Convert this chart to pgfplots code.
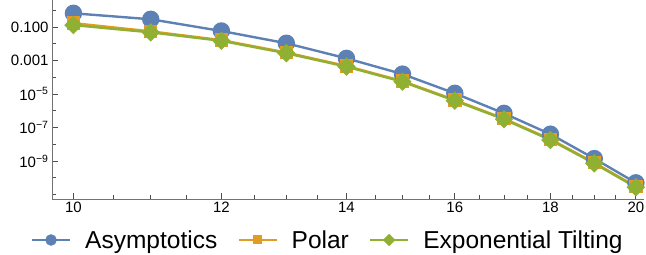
\documentclass[border=0pt]{standalone}
\usepackage{pgfplots}
\pgfplotsset{compat=1.18}
\usepackage{fontspec}
\setmainfont{Liberation Sans}
\definecolor{mblue}{rgb}{0.368417,0.506779,0.709798}
\definecolor{morange}{rgb}{0.880722,0.611041,0.142051}
\definecolor{mgreen}{rgb}{0.560181,0.691569,0.194885}
\begin{document}
\begin{tikzpicture}
\path[use as bounding box] (0,0) rectangle (646bp,255bp);
\begin{axis}[
  at={(52bp,56bp)}, anchor=south west,
  scale only axis, width=592bp, height=199bp,
  xmode=log, ymode=log,
  xmin=9.74, xmax=20.2, ymin=5.4e-12, ymax=4.1,
  axis lines*=left,
  axis line style={black!55, line width=0.8bp},
  tick align=inside,
  major tick length=6bp, minor tick length=4bp,
  every tick/.style={black!70, line width=0.8bp},
  xtick={10,12,14,16,18,20},
  xticklabels={10,12,14,16,18,20},
  minor xtick={10.5,11,11.5,12.5,13,13.5,14.5,15,15.5,16.5,17,17.5,18.5,19,19.5},
  ytick={1e-1,1e-3,1e-5,1e-7,1e-9},
  yticklabels={0.100,0.001,10\textsuperscript{−5},10\textsuperscript{−7},10\textsuperscript{−9}},
  minor ytick={1,1e-2,1e-4,1e-6,1e-8,1e-10,1e-11},
  ticklabel style={font=\fontsize{15bp}{17bp}\selectfont, text=black},
  clip=false,
  legend columns=3,
  legend style={at={(0.464,-0.206)}, anchor=center, draw=none, fill=none,
    font=\fontsize{24.5bp}{27bp}\selectfont,
    nodes={inner sep=0pt},
    /tikz/every odd column/.append style={column sep=14bp},
    /tikz/every even column/.append style={column sep=20bp},
    inner sep=0pt},
  legend image code/.code={\draw[#1, /tikz/every mark/.append style={scale=0.6}, mark repeat=2, mark phase=2] plot coordinates {(0bp,0bp) (19bp,0bp) (38bp,0bp)};},
]
\addplot[color=mblue, line width=2.4bp, mark=*, mark size=7.5bp, mark options={draw=none, fill=mblue}] coordinates {
(10,0.66) (11,0.29) (12,0.058) (13,0.0107) (14,1.35e-3) (15,1.55e-4) (16,1.1e-5) (17,7e-7) (18,4e-8) (19,1.4e-9) (20,5e-11)};
\addlegendentry{Asymptotics}
\addplot[color=morange, line width=2.4bp, mark=square*, mark size=5.5bp, mark options={draw=none, fill=morange}] coordinates {
(10,0.17) (11,0.055) (12,0.0165) (13,3.0e-3) (14,4.7e-4) (15,5.9e-5) (16,4.4e-6) (17,3.4e-7) (18,2.0e-8) (19,7.9e-10) (20,3.0e-11)};
\addlegendentry{Polar}
\addplot[color=mgreen, line width=2.4bp, mark=square*, mark size=5.3bp, mark options={draw=none, fill=mgreen, rotate=45}] coordinates {
(10,0.13) (11,0.048) (12,0.015) (13,2.7e-3) (14,4.3e-4) (15,5.4e-5) (16,4e-6) (17,3.1e-7) (18,1.8e-8) (19,7.2e-10) (20,2.7e-11)};
\addlegendentry{Exponential Tilting}
\end{axis}
\end{tikzpicture}
\end{document}
